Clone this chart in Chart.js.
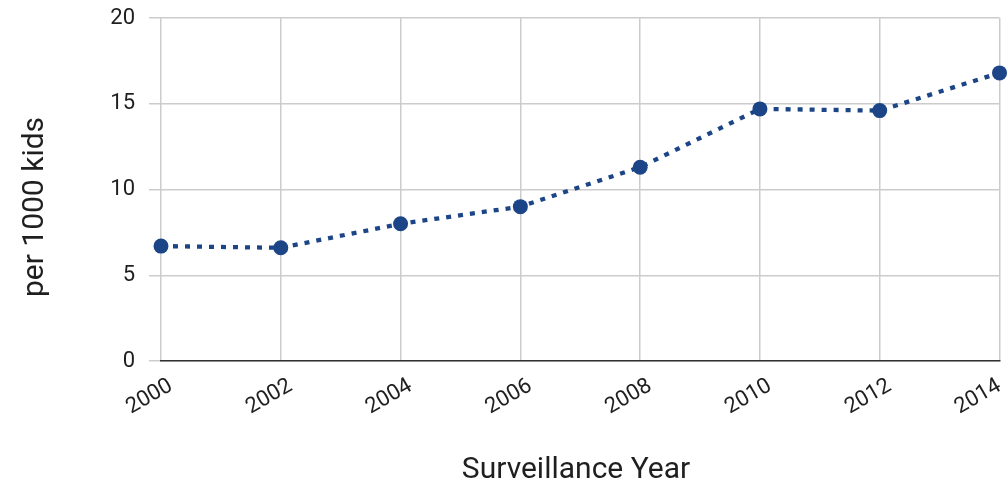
<!DOCTYPE html>
<html>
<head>
<meta charset="utf-8">
<script src="https://cdn.jsdelivr.net/npm/chart.js@4/dist/chart.umd.min.js"></script>
<style>
  html, body { margin: 0; padding: 0; background: #fff; }
  #wrap { width: 1007px; height: 485px; position: relative; }
</style>
</head>
<body>
<div id="wrap"><canvas id="chart"></canvas></div>
<script>
// Prevalence per 1000 children by surveillance year
const years = ['2000', '2002', '2004', '2006', '2008', '2010', '2012', '2014'];
const perThousand = [6.7, 6.6, 8.0, 9.0, 11.3, 14.7, 14.6, 16.8];
const yTicks = [0, 5, 10, 15, 20];
const xTitle = 'Surveillance Year';
const yTitle = 'per 1000 kids';

const lineColor = '#1c4587';
const textColor = '#1f1f1f';
const fontFamily = 'Roboto, "Open Sans", sans-serif';
Chart.defaults.font.family = fontFamily;
Chart.defaults.color = textColor;

// Axis titles placed at fixed spots around the plot
const axisTitles = {
  id: 'axisTitles',
  afterDraw(chart) {
    const ctx = chart.ctx;
    ctx.save();
    ctx.fillStyle = textColor;
    ctx.font = '30px ' + fontFamily;
    ctx.textAlign = 'center';
    ctx.textBaseline = 'middle';
    ctx.fillText(xTitle, 576, 470);
    ctx.translate(35, 207);
    ctx.rotate(-Math.PI / 2);
    ctx.fillText(yTitle, 0, 0);
    ctx.restore();
  }
};

// Pull the last x label back inside the canvas edge
function keepLastLabelInside(scale) {
  if (scale._lastLabelWrapped) return;
  const orig = scale.getLabelItems;
  scale.getLabelItems = function (area) {
    const items = orig.call(this, area);
    const last = items && items[items.length - 1];
    if (last && !last._pulledIn && last.options && Array.isArray(last.options.translation)) {
      last.options.translation = [last.options.translation[0] - 10, last.options.translation[1]];
      last._pulledIn = true;
    }
    return items;
  };
  scale._lastLabelWrapped = true;
}

new Chart(document.getElementById('chart'), {
  type: 'line',
  data: {
    labels: years,
    datasets: [{
      label: yTitle,
      data: perThousand,
      borderColor: lineColor,
      backgroundColor: lineColor,
      borderWidth: 4.3,
      borderDash: [5, 7],
      pointRadius: 7.5,
      pointHoverRadius: 7.5,
      pointBackgroundColor: lineColor,
      pointBorderColor: lineColor,
      pointBorderWidth: 0,
      tension: 0,
      clip: false
    }]
  },
  options: {
    responsive: true,
    maintainAspectRatio: false,
    animation: false,
    layout: { padding: 0 },
    plugins: {
      legend: { display: false },
      tooltip: { enabled: false }
    },
    scales: {
      x: {
        grid: { color: '#cccccc', lineWidth: 1.5, drawTicks: false },
        border: { color: '#333333', width: 1.5 },
        ticks: {
          font: { size: 22 },
          color: textColor,
          minRotation: 30,
          maxRotation: 30,
          padding: 12,
          labelOffset: 10
        },
        afterFit(scale) {
          scale.height = 124;
          scale.paddingLeft = 0;
          scale.paddingRight = 6;
          keepLastLabelInside(scale);
        }
      },
      y: {
        min: 0,
        max: 20,
        afterBuildTicks: (scale) => { scale.ticks = yTicks.map(v => ({ value: v })); },
        grid: { color: '#cccccc', lineWidth: 1.5, tickLength: 12 },
        border: { display: false },
        ticks: {
          font: { size: 22 },
          color: textColor,
          padding: 14
        },
        afterFit(scale) {
          scale.width = 161;
          scale.paddingTop = 18;
          scale.paddingBottom = 0;
        }
      }
    }
  },
  plugins: [axisTitles]
});
</script>
</body>
</html>
